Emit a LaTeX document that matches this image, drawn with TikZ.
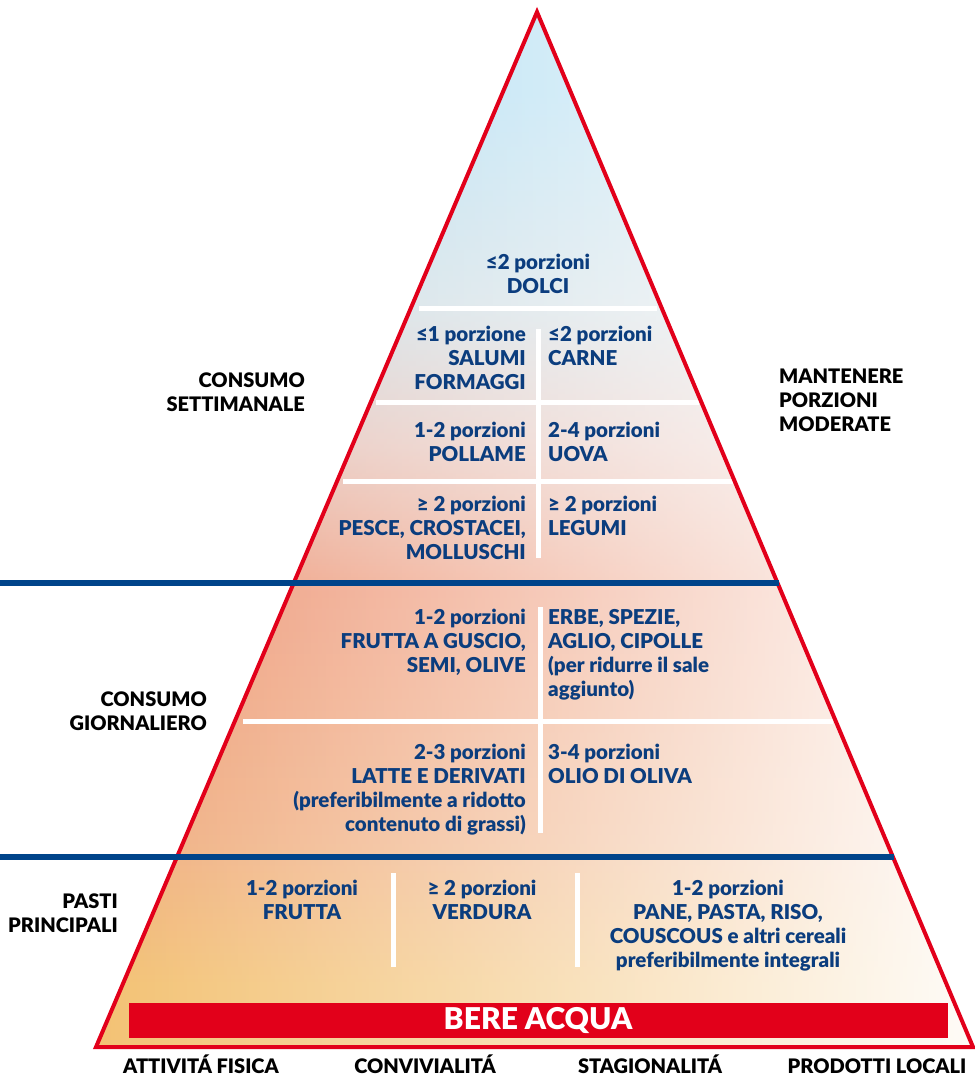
\documentclass[tikz,border=0pt]{standalone}
\usepackage{fontspec}
\setmainfont{Lato}[BoldFont={Lato Black}]
\usetikzlibrary{fadings}
\definecolor{pyrred}{HTML}{E2001A}
\definecolor{bandblue}{HTML}{00448A}
\definecolor{textblue}{HTML}{0B3D7E}
\definecolor{skyblue}{HTML}{A8DAF1}
\definecolor{greyblue}{HTML}{CCDCE3}
\definecolor{rosegrey}{HTML}{E6C2B8}
\definecolor{salmon}{HTML}{EE9878}
\definecolor{peach}{HTML}{F0AE80}
\definecolor{sand}{HTML}{F3C274}
\pgfdeclareverticalshading{pyramidfill}{100bp}{color(0bp)=(sand); color(25bp)=(sand); color(28bp)=(sand); color(35bp)=(peach); color(47bp)=(salmon); color(54bp)=(rosegrey); color(61bp)=(greyblue); color(71bp)=(skyblue); color(75bp)=(skyblue); color(100bp)=(skyblue)}
\tikzfading[name=paleright, left color=transparent!100, middle color=transparent!85, right color=transparent!5]
\begin{document}
\begin{tikzpicture}[x=1pt, y=-1pt,
    txt/.style={font=\fontsize{20}{24}\selectfont\bfseries, inner sep=0pt},
    food/.style={txt, text=textblue, font=\fontsize{20.5}{24}\selectfont\bfseries},
    side/.style={txt, text=black},
    divider/.style={white, line width=5pt},
    band/.style={bandblue, line width=5.5pt}]
\useasboundingbox (0,0) rectangle (975,1077);
\coordinate (apex) at (537,12);
\coordinate (bl) at (96,1047);
\coordinate (br) at (973,1047);
\shade[shading=pyramidfill] (apex) -- (bl) -- (br) -- cycle;
\fill[white, path fading=paleright] (apex) -- (bl) -- (br) -- cycle;

\draw[divider] (419,308) -- (657,308);
\draw[divider] (376,402) -- (699,402);
\draw[divider] (343,481) -- (733,481);
\draw[divider] (538,329) -- (538,558);
\draw[divider] (243,721) -- (833,721);
\draw[divider] (540,607) -- (540,833);
\draw[divider] (393,873) -- (393,967);
\draw[divider] (577,873) -- (577,967);

\node[food, anchor=north, align=center] (dolci) at (538,254) {≤2 porzioni\\DOLCI};
\node[food, anchor=north east, align=right] (salumi) at (526,326) {≤1 porzione\\SALUMI\\FORMAGGI};
\node[food, anchor=north west, align=left] (carne) at (548,326) {≤2 porzioni\\CARNE};
\node[food, anchor=north east, align=right] (pollame) at (526,422) {1-2 porzioni\\POLLAME};
\node[food, anchor=north west, align=left] (uova) at (548,422) {2-4 porzioni\\UOVA};
\node[food, anchor=north east, align=right] (pesce) at (526,496) {≥ 2 porzioni\\PESCE, CROSTACEI,\\MOLLUSCHI};
\node[food, anchor=north west, align=left] (legumi) at (548,496) {≥ 2 porzioni\\LEGUMI};
\node[food, anchor=north east, align=right] (guscio) at (526,609) {1-2 porzioni\\FRUTTA A GUSCIO,\\SEMI, OLIVE};
\node[food, anchor=north west, align=left] (erbe) at (548,609) {ERBE, SPEZIE,\\AGLIO, CIPOLLE\\(per ridurre il sale\\aggiunto)};
\node[food, anchor=north east, align=right] (latte) at (526,744) {2-3 porzioni\\LATTE E DERIVATI\\(preferibilmente a ridotto\\contenuto di grassi)};
\node[food, anchor=north west, align=left] (olio) at (548,744) {3-4 porzioni\\OLIO DI OLIVA};
\node[food, anchor=north, align=center] (frutta) at (302,880) {1-2 porzioni\\FRUTTA};
\node[food, anchor=north, align=center] (verdura) at (482,880) {≥ 2 porzioni\\VERDURA};
\node[food, anchor=north, align=center] (pane) at (728,880) {1-2 porzioni\\PANE, PASTA, RISO,\\COUSCOUS e altri cereali\\preferibilmente integrali};

\node[fill=pyrred, text=white, minimum width=819, minimum height=35, inner sep=0pt,
      font=\fontsize{30}{32}\selectfont\bfseries] (acqua) at (538,1020) {BERE ACQUA};

\draw[pyrred, line width=4pt] (apex) -- (bl) -- (br) -- cycle;
\draw[band] (0,583) -- (779,583);
\draw[band] (0,857) -- (894,857);

\node[side, anchor=north east, align=right] (settimanale) at (305,373) {CONSUMO\\SETTIMANALE};
\node[side, anchor=north west, align=left] (moderate) at (779,369) {MANTENERE\\PORZIONI\\MODERATE};
\node[side, anchor=north east, align=right] (giornaliero) at (207,692) {CONSUMO\\GIORNALIERO};
\node[side, anchor=north east, align=right] (pasti) at (118,894) {PASTI\\PRINCIPALI};

\node[side, anchor=base] (fisica) at (201,1073) {ATTIVITÁ FISICA};
\node[side, anchor=base] (convivialita) at (425,1073) {CONVIVIALITÁ};
\node[side, anchor=base] (stagionalita) at (650,1073) {STAGIONALITÁ};
\node[side, anchor=base] (locali) at (877,1073) {PRODOTTI LOCALI};
\end{tikzpicture}
\end{document}
